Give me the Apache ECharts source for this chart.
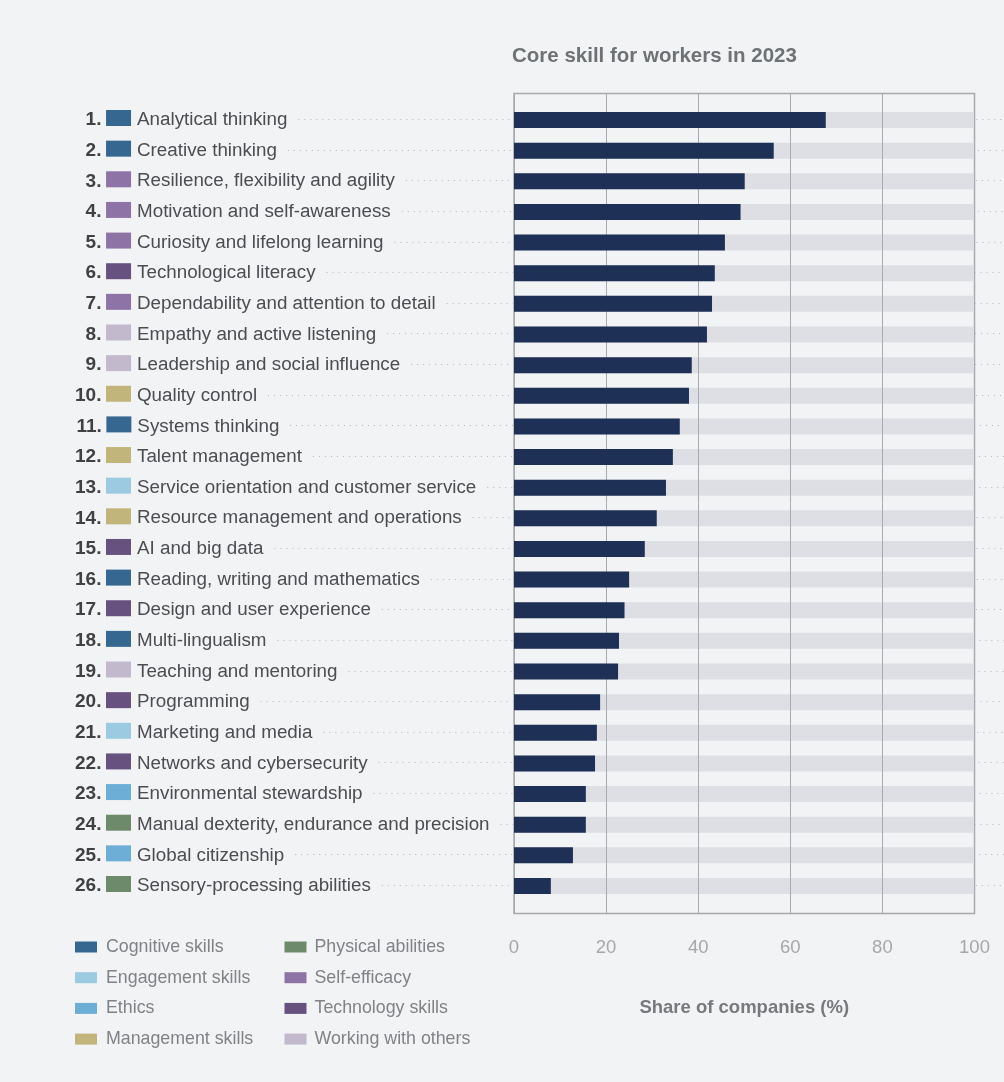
<!DOCTYPE html>
<html lang="en">
<head>
    <meta charset="UTF-8">
    <title>Core skill for workers in 2023</title>
    <script src="https://cdn.jsdelivr.net/npm/echarts@6/dist/echarts.min.js"></script>
    <style type="text/css">
        html, body { height: 100%; margin: 0; background-color: #f2f3f5; }
        #main { width: 1004px; height: 1082px; }
    </style>
</head>
<body>
    <div id="main"></div>
    <script type="text/javascript">
        var skills = [
            'Analytical thinking', 'Creative thinking', 'Resilience, flexibility and agility',
            'Motivation and self-awareness', 'Curiosity and lifelong learning', 'Technological literacy',
            'Dependability and attention to detail', 'Empathy and active listening',
            'Leadership and social influence', 'Quality control', 'Systems thinking', 'Talent management',
            'Service orientation and customer service', 'Resource management and operations',
            'AI and big data', 'Reading, writing and mathematics', 'Design and user experience',
            'Multi-lingualism', 'Teaching and mentoring', 'Programming', 'Marketing and media',
            'Networks and cybersecurity', 'Environmental stewardship',
            'Manual dexterity, endurance and precision', 'Global citizenship', 'Sensory-processing abilities'
        ];
        var shares = [67.7, 56.4, 50.1, 49.2, 45.8, 43.6, 43, 41.9, 38.6, 38, 36, 34.5, 33, 31, 28.4, 25, 24, 22.8, 22.6, 18.7, 18, 17.6, 15.6, 15.6, 12.8, 8];
        var fullScale = [100, 100, 100, 100, 100, 100, 100, 100, 100, 100, 100, 100, 100, 100, 100, 100, 100, 100, 100, 100, 100, 100, 100, 100, 100, 100];
        // index into groupNames for each skill
        var skillGroup = [0, 0, 5, 5, 5, 6, 5, 7, 7, 3, 0, 3, 1, 3, 6, 0, 6, 0, 7, 6, 1, 6, 2, 4, 2, 4];
        var groupNames = ['Cognitive skills', 'Engagement skills', 'Ethics', 'Management skills', 'Physical abilities', 'Self-efficacy', 'Technology skills', 'Working with others'];
        var groupColors = ['#366791', '#9ccae0', '#6caed6', '#c1b57c', '#6d8b6a', '#8e74a6', '#67527f', '#c2b9cd'];

        var FONT = '"Liberation Sans", Arial, sans-serif';
        var measure = document.createElement('canvas').getContext('2d');
        measure.font = '18.8px ' + FONT;

        // rich styles for the row labels, one swatch style per group
        var rankStyle = { fontSize: 19, fontWeight: 'bold', color: '#3f4143', fontFamily: FONT };
        var rich = {
            rank1: Object.assign({ padding: [4, 4.6, 0, 10.6] }, rankStyle),
            rank2: Object.assign({ padding: [4, 4.6, 0, 0] }, rankStyle),
            rank11: Object.assign({ padding: [4, 4.6, 0, 1.4] }, rankStyle), // "11" kerns narrower
            name: { padding: [4, 0, 0, 6], fontSize: 18.8, color: '#4b4d50', fontFamily: FONT }
        };
        groupColors.forEach(function (c, i) {
            rich['g' + i] = { width: 25, height: 16, backgroundColor: c };
        });

        var chart = echarts.init(document.getElementById('main'));
        var option = {
            backgroundColor: '#f2f3f5',
            animation: false,
            title: {
                text: 'Core skill for workers in 2023',
                left: 512, top: 46, padding: 0,
                textStyle: { fontFamily: FONT, fontSize: 20.5, fontWeight: 'bold', color: '#6f7274' }
            },
            legend: [
                { left: 75, gap: 4, data: groupNames.slice(0, 4) },
                { left: 284.5, gap: 3, data: groupNames.slice(4) }
            ].map(function (l) {
                return {
                    left: l.left, top: 937, orient: 'vertical', data: l.data, icon: 'rect',
                    itemWidth: 22, itemHeight: 11, itemGap: 10.7, selectedMode: false, padding: 0,
                    textStyle: { fontFamily: FONT, fontSize: 17.8, lineHeight: 20, color: '#808285', padding: [0, 0, 0, l.gap] }
                };
            }),
            grid: [
                { left: 514, right: 29.5, top: 93.5, bottom: 168.5, show: true, borderColor: '#a8a9ab', borderWidth: 1.5, backgroundColor: 'transparent' },
                { left: 514, right: 29.5, top: 104.7, bottom: 180.7 }
            ],
            xAxis: [
                {
                    gridIndex: 0, type: 'value', min: 0, max: 100, interval: 20, z: 3,
                    name: 'Share of companies (%)', nameLocation: 'middle', nameGap: 85,
                    nameTextStyle: { fontFamily: FONT, fontSize: 18.5, fontWeight: 'bold', color: '#77797c' },
                    axisLine: { show: false }, axisTick: { show: false },
                    axisLabel: { margin: 25, fontFamily: FONT, fontSize: 18.5, color: '#a5a7a9' },
                    splitLine: { show: true, lineStyle: { color: '#a9aaad', width: 1 } }
                },
                { gridIndex: 1, type: 'value', min: 0, max: 100, show: false }
            ],
            yAxis: [
                { gridIndex: 0, type: 'value', show: false },
                {
                    gridIndex: 1, type: 'category', inverse: true, data: skills,
                    axisLine: { show: false }, axisTick: { show: false },
                    axisLabel: {
                        align: 'left', margin: 439, rich: rich, interval: 0, padding: [0, 0, 4, 0],
                        formatter: function (name, i) {
                            var rankKey = i === 10 ? 'rank11' : 'rank' + String(i + 1).length;
                            return '{' + rankKey + '|' + (i + 1) + '.}{g' + skillGroup[i] + '|}{name|' + name + '}';
                        }
                    }
                }
            ],
            series: [
                {
                    type: 'custom', xAxisIndex: 1, yAxisIndex: 1, z: 1, silent: true,
                    data: skills.map(function (s, i) { return [0, i]; }),
                    renderItem: function (params, api) {
                        var y = Math.floor(api.coord([0, api.value(1)])[1] - 0.5) + 0.5;
                        var x0 = 137 + measure.measureText(skills[params.dataIndex]).width + 11;
                        return {
                            type: 'line',
                            shape: { x1: x0, y1: y, x2: api.getWidth(), y2: y },
                            style: { stroke: '#b4b6ba', lineWidth: 1, lineDash: [1, 5] }
                        };
                    }
                },
                { type: 'bar', xAxisIndex: 1, yAxisIndex: 1, z: 2, data: fullScale, barWidth: 16, barGap: '-100%', itemStyle: { color: '#dedfe4' }, silent: true },
                { type: 'bar', xAxisIndex: 1, yAxisIndex: 1, z: 4, data: shares, barWidth: 16, barGap: '-100%', itemStyle: { color: '#1e3055' } }
            ].concat(groupNames.map(function (g, i) {
                // empty series, only there to feed the legends
                return { type: 'scatter', name: g, xAxisIndex: 1, yAxisIndex: 1, data: [], itemStyle: { color: groupColors[i], opacity: 1 } };
            }))
        };
        chart.setOption(option);
    </script>
</body>
</html>
